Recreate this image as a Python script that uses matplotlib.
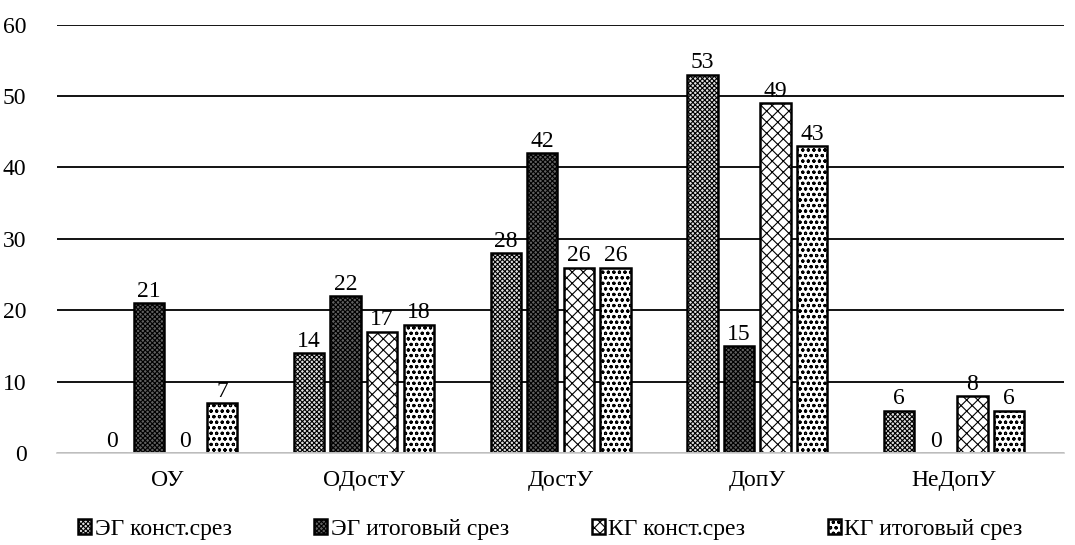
import matplotlib
matplotlib.use('Agg')
import matplotlib.pyplot as plt
import numpy as np

plt.rcParams['font.family'] = ['Liberation Serif', 'DejaVu Serif']
plt.rcParams['hatch.linewidth'] = 0.8

categories = ['ОУ', 'ОДостУ', 'ДостУ', 'ДопУ', 'НеДопУ']
eg_const = [0, 14, 28, 53, 6]
eg_final = [21, 22, 42, 15, 0]
kg_const = [0, 17, 26, 49, 8]
kg_final = [7, 18, 26, 43, 6]

series = [eg_const, eg_final, kg_const, kg_final]
labels = ['ЭГ конст.срез', 'ЭГ итоговый срез', 'КГ конст.срез', 'КГ итоговый срез']
hatches = ['xxxxxxx', 'xxxxxxx', 'xxx', 'ooo']
faces = ['#e0e0e0', '#606060', 'white', 'white']
fs = 17

fig, ax = plt.subplots(figsize=(10.75, 5.45), dpi=100)
fig.subplots_adjust(left=0.053, right=0.99, top=0.955, bottom=0.168)

x = np.arange(len(categories))
w = 0.154
step = 0.186
for k, (vals, lab, h, fc) in enumerate(zip(series, labels, hatches, faces)):
    pos = x + (k - 1.5) * step
    ax.bar(pos, vals, width=w, color=fc, edgecolor='black', hatch=h,
           linewidth=1.8, label=lab)
    for p, v in zip(pos, vals):
        ax.text(p, v + 0.2, str(v), ha='center', va='bottom', fontsize=fs)

ax.set_ylim(0, 60)
ax.set_xlim(-0.56, 4.56)
ax.set_yticks(range(0, 61, 10))
ax.yaxis.grid(True, color='black', lw=1.3)
ax.set_axisbelow(True)
for s in ['top', 'right', 'left']:
    ax.spines[s].set_visible(False)
ax.spines['bottom'].set_color('#d0d0d0')
ax.spines['bottom'].set_linewidth(1.3)
ax.tick_params(axis='y', length=0, labelsize=fs, pad=22)
ax.tick_params(axis='x', length=0, labelsize=fs, pad=12)
ax.set_xticks(x)
ax.set_xticklabels(categories)

ax.legend(loc='upper center', bbox_to_anchor=(0.49, -0.125), ncol=4, frameon=False,
          fontsize=fs, handlelength=0.55, handleheight=0.55, handletextpad=0.15,
          columnspacing=3.5, borderaxespad=0.1)

plt.savefig('out.png', dpi=100)
